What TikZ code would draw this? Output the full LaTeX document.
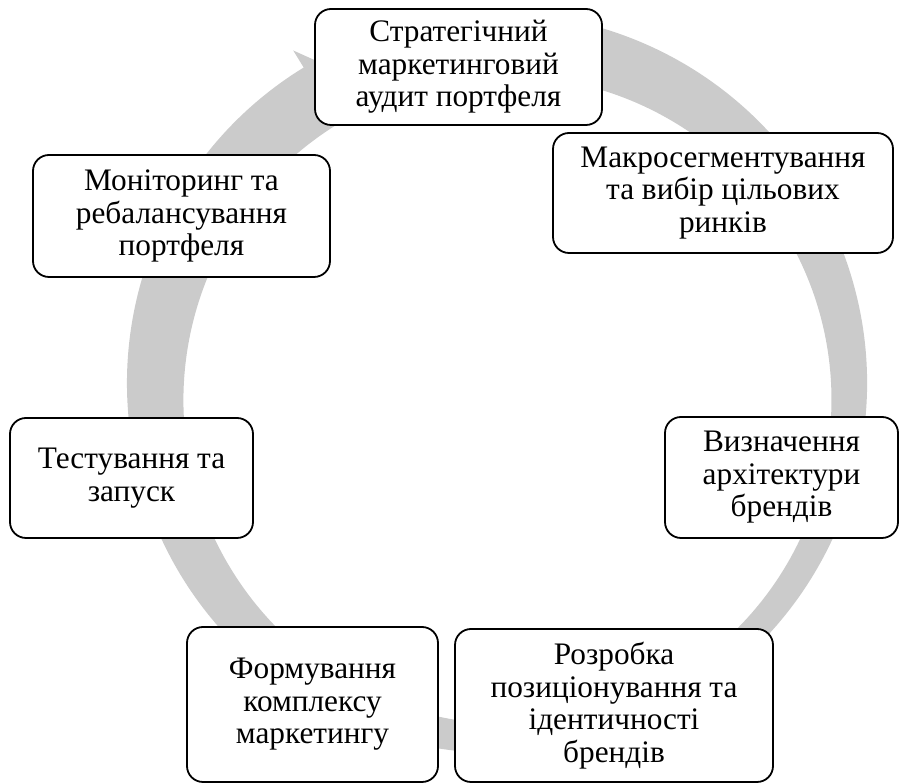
\documentclass[tikz,border=0pt]{standalone}
\usepackage{fontspec}
\setmainfont{Liberation Serif}
\usetikzlibrary{calc}
\definecolor{ringgray}{RGB}{203,203,203}
\tikzset{
  stagebox/.style={draw=black, fill=white, line width=1.8pt, rounded corners=16pt,
    align=center, inner sep=0pt, font=\fontsize{31.3}{32.5}\selectfont},
}
\begin{document}
\begin{tikzpicture}[x=1pt,y=1pt]
\useasboundingbox (0,0) rectangle (900,783);
\coordinate (c) at (497,400);
% circular arrow
\fill[ringgray] ($(c)+(110:370pt)$) arc[start angle=110, end angle=-238.5, radius=370pt]
  -- ($(c)+(-238.5:390pt)$) -- ($(c)+(-243.5:347pt)$) -- ($(c)+(-238.5:304pt)$)
  arc[start angle=-238.5, end angle=110, radius=324pt] -- cycle;
% stages
\node[stagebox, minimum width=287pt, minimum height=116pt] (b1) at (458.5,716)
  {Стратегічний\\маркетинговий\\аудит портфеля};
\node[stagebox, minimum width=340pt, minimum height=120pt] (b2) at (723,590)
  {Макросегментування\\та вибір цільових\\ринків};
\node[stagebox, minimum width=233pt, minimum height=121pt] (b3) at (781.5,305.5)
  {Визначення\\архітектури\\брендів};
\node[stagebox, minimum width=318pt, minimum height=153pt] (b4) at (614,77.5)
  {Розробка\\позиціонування та\\ідентичності\\брендів};
\node[stagebox, minimum width=251pt, minimum height=155pt] (b5) at (312.5,78.5)
  {Формування\\комплексу\\маркетингу};
\node[stagebox, minimum width=243pt, minimum height=120pt] (b6) at (131.5,305)
  {Тестування та\\запуск};
\node[stagebox, minimum width=297pt, minimum height=122pt] (b7) at (181.5,567)
  {Моніторинг та\\ребалансування\\портфеля};
\end{tikzpicture}
\end{document}
